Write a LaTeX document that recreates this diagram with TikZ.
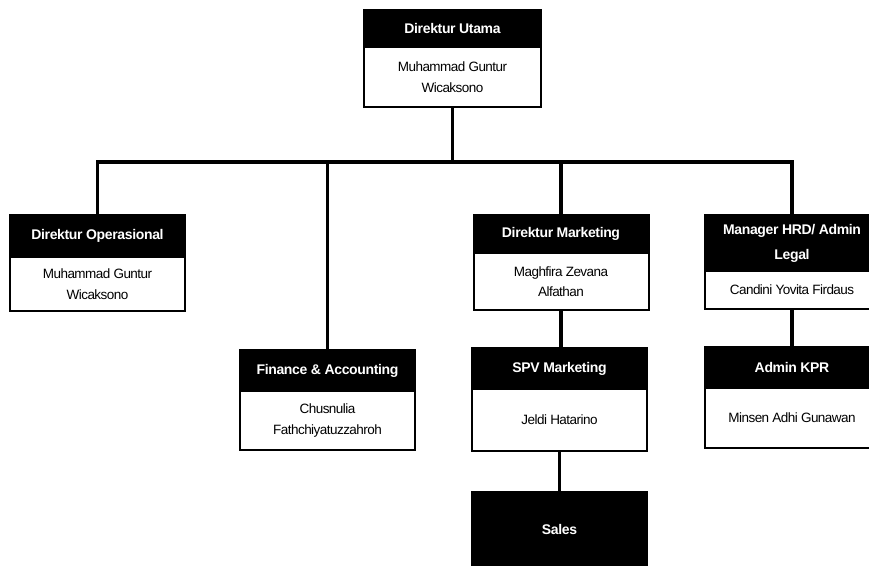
\documentclass[tikz,border=0pt]{standalone}
\usepackage{fontspec}
\setmainfont{Liberation Sans}
\usetikzlibrary{positioning}
\begin{document}
\begin{tikzpicture}[x=1pt,y=-1pt,
  head/.style={draw,fill=black,text=white,line width=2pt,inner sep=0pt,outer sep=0pt,
    minimum width=175pt,font=\fontsize{14}{25}\bfseries\addfontfeature{LetterSpace=-2.5}\selectfont,
    align=center,anchor=north},
  body/.style={draw,line width=2pt,inner sep=0pt,outer sep=0pt,minimum width=175pt,
    font=\fontsize{13.5}{20.5}\addfontfeature{LetterSpace=-4}\selectfont,align=center,below=0pt of #1},
  link/.style={line width=3.2pt}]
\useasboundingbox (0,0) rectangle (869,565);
% Top of the chart
\node[head,minimum width=177pt,minimum height=37pt] (utamah) at (452.5,10) {Direktur Utama};
\node[body=utamah,minimum width=177pt,minimum height=60pt] (utamab) {Muhammad Guntur\\Wicaksono};
% Level under the bus line
\node[head,minimum height=42pt] (oprh) at (97.5,215) {Direktur Operasional};
\node[body=oprh,minimum height=54pt] (oprb) {Muhammad Guntur\\Wicaksono};
\node[head,minimum height=41pt] (finh) at (327.5,350) {Finance \& Accounting};
\node[body=finh,minimum height=59pt] (finb) {Chusnulia\\Fathchiyatuzzahroh};
\node[head,minimum height=38pt] (mkth) at (561,215) {Direktur Marketing};
\node[body=mkth,minimum height=57pt] (mktb) {Maghfira Zevana\\Alfathan};
\node[head,minimum height=56pt] (hrdh) at (792,215) {Manager HRD/ Admin\\Legal};
\node[body=hrdh,minimum height=38pt] (hrdb) {Candini Yovita Firdaus};
% Lower boxes
\node[head,minimum height=41pt] (spvh) at (559.5,348) {SPV Marketing};
\node[body=spvh,minimum height=62pt] (spvb) {Jeldi Hatarino};
\node[head,minimum height=41pt] (kprh) at (792,347) {Admin KPR};
\node[body=kprh,minimum height=60pt] (kprb) {Minsen Adhi Gunawan};
\node[head,minimum height=74pt] (salesh) at (559.5,492) {Sales};
% Bus line and connectors
\coordinate (bus) at (0,162);
\draw[link] (utamab.south) -- (utamab.south |- bus);
\draw[link,line cap=rect] (oprh.north |- bus) -- (hrdh.north |- bus);
\foreach \n in {oprh,finh,mkth,hrdh}
  \draw[link] (\n.north |- bus) -- (\n.north);
\draw[link] (mktb.south) -- (mktb.south |- spvh.north);
\draw[link] (hrdb.south) -- (kprh.north);
\draw[link] (spvb.south) -- (spvb.south |- salesh.north);
\end{tikzpicture}
\end{document}
